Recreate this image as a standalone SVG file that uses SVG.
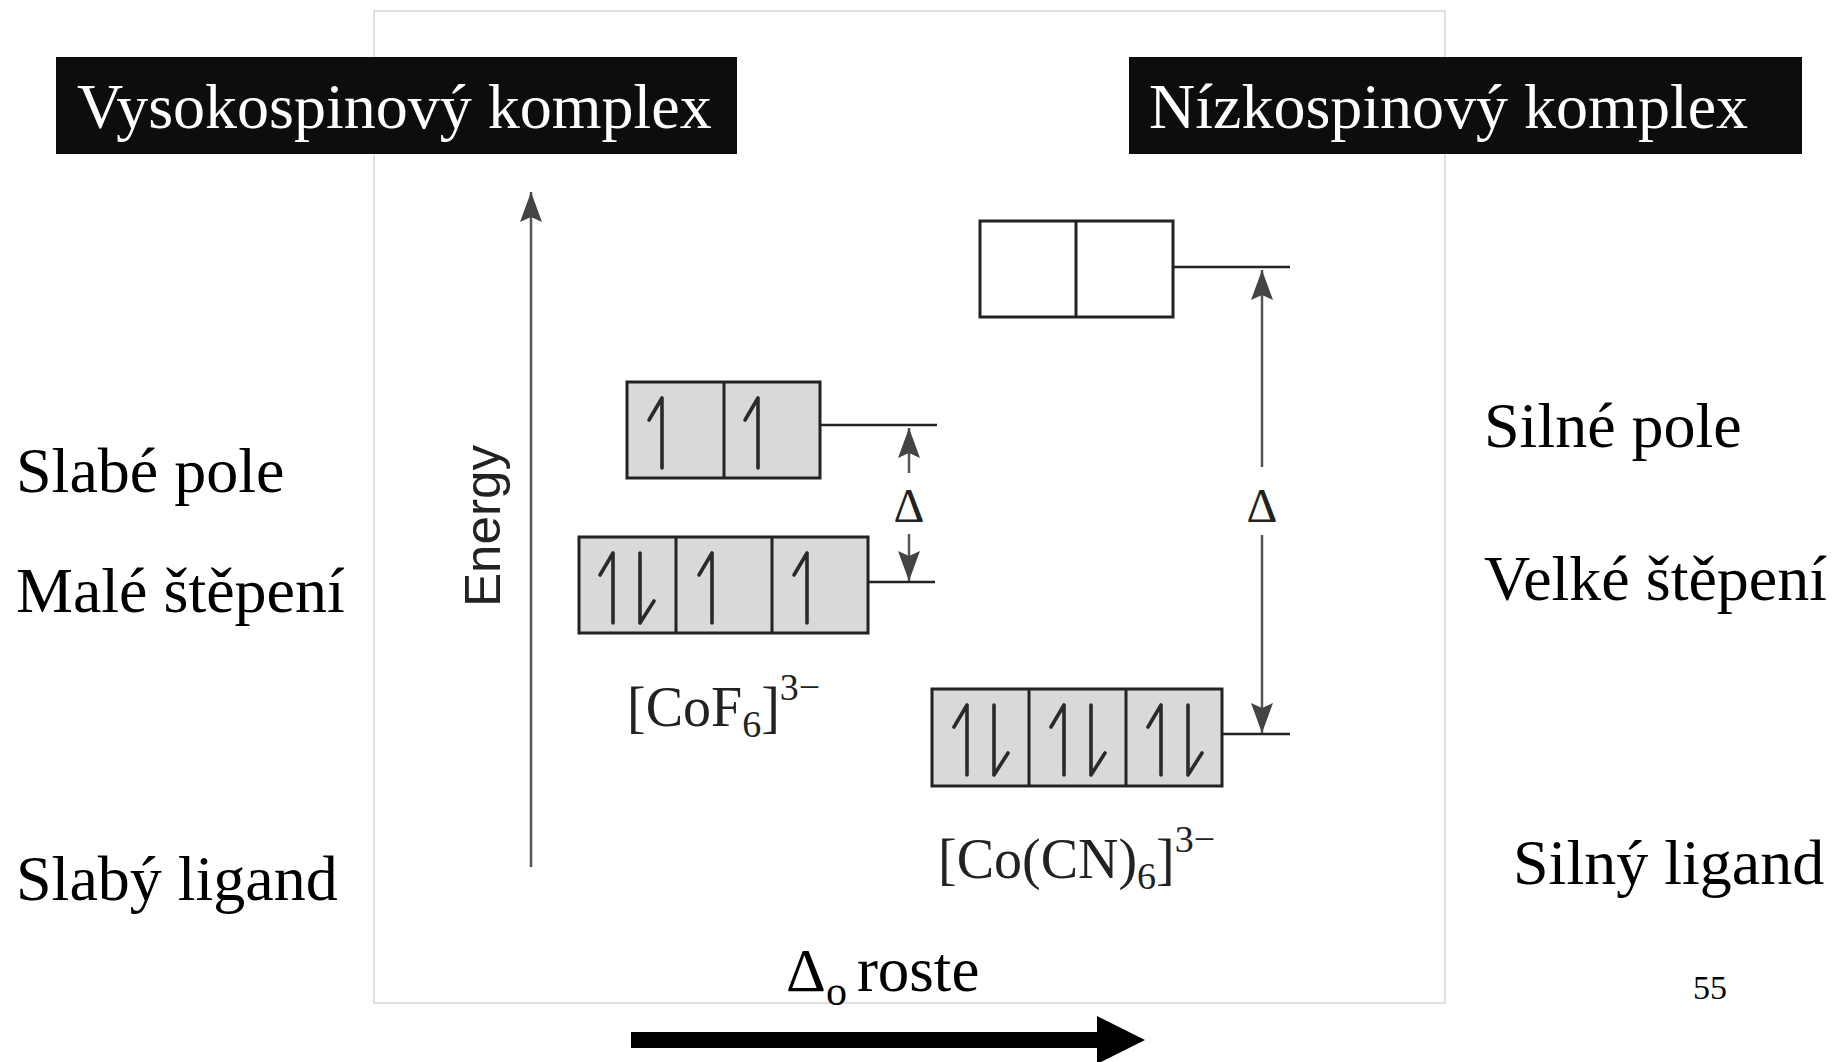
<svg xmlns="http://www.w3.org/2000/svg" xmlns:xlink="http://www.w3.org/1999/xlink" width="1832" height="1062" viewBox="0 0 1832 1062">
<style>
.serif{font-family:"Liberation Serif","Times New Roman",serif;fill:#000}
.title{font-family:"Liberation Serif","Times New Roman",serif;fill:#fff;font-size:64px}
.lbl{font-size:64px}
.box{fill:#d9d9d9;stroke:#222;stroke-width:3}
.boxw{fill:#fff;stroke:#222;stroke-width:3}
.div{stroke:#222;stroke-width:3}
.tick{stroke:#222;stroke-width:2.5;fill:none}
.ax{stroke:#555;stroke-width:2.5;fill:none}
.spin{stroke:#2a2a2a;stroke-width:3.6;fill:none;stroke-linecap:round}
.formula{font-family:"Liberation Serif","Times New Roman",serif;fill:#222;font-size:56px}
.delta{font-family:"Liberation Serif","Times New Roman",serif;fill:#222;font-size:48px}
</style>
<defs>
<marker id="ah" markerUnits="userSpaceOnUse" viewBox="0 0 30 22" refX="30" refY="11" markerWidth="30" markerHeight="22" orient="auto">
<path d="M0,0 L30,11 L0,22 L5,11 z" fill="#444"/>
</marker>
<path id="up" d="M0,0 V70 M0,0 L-13,22"/>
<path id="dn" d="M0,0 V70 M0,70 L14,48"/>
</defs>
<rect width="1832" height="1062" fill="#fff"/>
<rect id="frame" x="374" y="11" width="1071" height="992" fill="none" stroke="#d6d6d6" stroke-width="1.5"/>

<g id="title-high">
<rect x="56" y="57" width="681" height="97" fill="#0d0d0d"/>
<text class="title" x="77" y="128">Vysokospinový komplex</text>
</g>
<g id="title-low">
<rect x="1129" y="57" width="673" height="97" fill="#0d0d0d"/>
<text class="title" x="1149" y="128">Nízkospinový komplex</text>
</g>

<g id="left-labels" class="serif lbl">
<text x="16" y="492">Slabé pole</text>
<text x="16" y="612">Malé štěpení</text>
<text x="16" y="900">Slabý ligand</text>
</g>
<g id="right-labels" class="serif lbl">
<text x="1484" y="447">Silné pole</text>
<text x="1484" y="600">Velké štěpení</text>
<text x="1513" y="884">Silný ligand</text>
</g>
<text id="page" class="serif" x="1693" y="999" font-size="34">55</text>

<g id="energy-axis">
<line class="ax" x1="531" y1="867" x2="531" y2="192" marker-end="url(#ah)"/>
<text transform="translate(500,526) rotate(-90)" text-anchor="middle" font-family="Liberation Sans, Arial, sans-serif" font-size="50" fill="#222" textLength="162" lengthAdjust="spacingAndGlyphs">Energy</text>
</g>

<g id="cof6-eg">
<rect class="box" x="627" y="382" width="193" height="96"/>
<line class="div" x1="724" y1="382" x2="724" y2="478"/>
<use href="#up" xlink:href="#up" class="spin" x="662" y="398"/>
<use href="#up" xlink:href="#up" class="spin" x="758" y="398"/>
</g>
<g id="cof6-t2g">
<rect class="box" x="579" y="537" width="289" height="96"/>
<line class="div" x1="676" y1="537" x2="676" y2="633"/>
<line class="div" x1="772" y1="537" x2="772" y2="633"/>
<use href="#up" xlink:href="#up" class="spin" x="613" y="553"/>
<use href="#dn" xlink:href="#dn" class="spin" x="640" y="553"/>
<use href="#up" xlink:href="#up" class="spin" x="712" y="553"/>
<use href="#up" xlink:href="#up" class="spin" x="807" y="553"/>
</g>
<text id="cof6-label" class="formula" x="627" y="726">[CoF<tspan font-size="38" dy="11">6</tspan><tspan dy="-11">]</tspan><tspan font-size="38" dy="-26">3−</tspan></text>

<g id="cocn6-eg">
<rect class="boxw" x="980" y="221" width="193" height="96"/>
<line class="div" x1="1076" y1="221" x2="1076" y2="317"/>
</g>
<g id="cocn6-t2g">
<rect class="box" x="932" y="689" width="290" height="97"/>
<line class="div" x1="1029" y1="689" x2="1029" y2="786"/>
<line class="div" x1="1126" y1="689" x2="1126" y2="786"/>
<use href="#up" xlink:href="#up" class="spin" x="967" y="705"/>
<use href="#dn" xlink:href="#dn" class="spin" x="994" y="705"/>
<use href="#up" xlink:href="#up" class="spin" x="1064" y="705"/>
<use href="#dn" xlink:href="#dn" class="spin" x="1091" y="705"/>
<use href="#up" xlink:href="#up" class="spin" x="1161" y="705"/>
<use href="#dn" xlink:href="#dn" class="spin" x="1188" y="705"/>
</g>
<text id="cocn6-label" class="formula" x="938" y="878">[Co(CN)<tspan font-size="38" dy="11">6</tspan><tspan dy="-11">]</tspan><tspan font-size="38" dy="-26">3−</tspan></text>

<g id="connectors">
<line class="tick" x1="820" y1="425" x2="937" y2="425"/>
<line class="tick" x1="868" y1="582" x2="935" y2="582"/>
<line class="tick" x1="1173" y1="267" x2="1290" y2="267"/>
<line class="tick" x1="1222" y1="734" x2="1290" y2="734"/>
<line class="ax" x1="909" y1="473" x2="909" y2="428" marker-end="url(#ah)"/>
<line class="ax" x1="909" y1="534" x2="909" y2="581" marker-end="url(#ah)"/>
<text class="delta" x="909" y="522" text-anchor="middle">Δ</text>
<line class="ax" x1="1262" y1="467" x2="1262" y2="270" marker-end="url(#ah)"/>
<line class="ax" x1="1262" y1="535" x2="1262" y2="733" marker-end="url(#ah)"/>
<text class="delta" x="1262" y="522" text-anchor="middle">Δ</text>
</g>

<g id="delta-roste">
<text class="serif" x="786" y="991" font-size="62">Δ<tspan font-size="42" dy="14">o</tspan><tspan font-size="63" dy="-14" dx="10">roste</tspan></text>
<path d="M631,1032 H1097 V1016 L1145,1040 L1097,1064 V1048 H631 z" fill="#000"/>
</g>
</svg>
